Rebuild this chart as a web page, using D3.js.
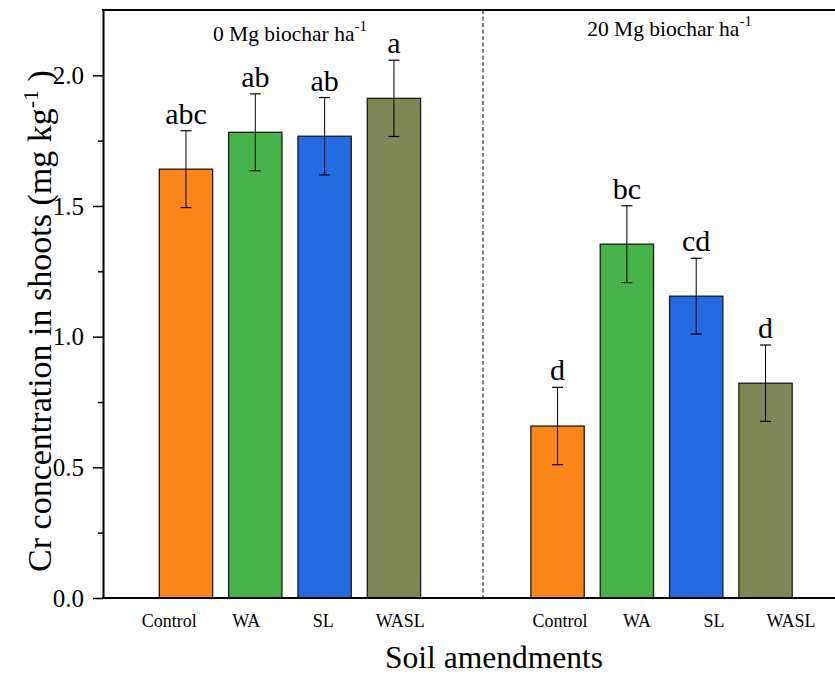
<!DOCTYPE html>
<html>
<head>
<meta charset="utf-8">
<script src="https://cdn.jsdelivr.net/npm/d3@7"></script>
<style>
  html, body { margin: 0; padding: 0; background: #fff; }
  svg { display: block; }
  svg text { font-family: "Liberation Serif", "Times New Roman", Times, "DejaVu Serif", serif; }
</style>
</head>
<body>
<svg id="chart" width="835" height="675"></svg>
<script>
// ---- data ----
const groups = ["0 Mg biochar ha", "20 Mg biochar ha"];
const categories = ["Control", "WA", "SL", "WASL"];
const values0 = [1.641, 1.782, 1.767, 1.912];
const values20 = [0.658, 1.354, 1.155, 0.822];
const errors0 = [0.147, 0.147, 0.148, 0.146];
const errors20 = [0.148, 0.147, 0.145, 0.146];
const letters0 = ["abc", "ab", "ab", "a"];
const letters20 = ["d", "bc", "cd", "d"];
const yTicks = [0.0, 0.5, 1.0, 1.5, 2.0];
const yMinorTicks = [0.25, 0.75, 1.25, 1.75];
const yDomain = [0, 2.25];

const colors = ["#FC8519", "#47B34B", "#246BE3", "#7F8756"];
const FONT = "'Liberation Serif', 'Times New Roman', Times, 'DejaVu Serif', serif";

const rows = [];
groups.forEach((g, gi) => {
  const vals = gi === 0 ? values0 : values20;
  const errs = gi === 0 ? errors0 : errors20;
  const lets = gi === 0 ? letters0 : letters20;
  categories.forEach((c, ci) => {
    rows.push({ group: g, cat: c, ci, value: vals[ci], err: errs[ci], letter: lets[ci] });
  });
});

// ---- layout ----
const L = 103, T = 10, B = 598, R = 848.5;
const svg = d3.select("#chart");

const y = d3.scaleLinear().domain(yDomain).range([B, T]);
const x0 = d3.scaleBand().domain(groups).range([L, R]).paddingInner(0.2538).paddingOuter(0.13);
const x1 = d3.scaleBand().domain(categories).range([0, x0.bandwidth()]).paddingInner(0.231).paddingOuter(0.1155);
const xLabel = d3.scaleBand().domain(categories).range([0, 308]);
const labelShift = { [groups[0]]: -20.5, [groups[1]]: -1.5 };

// divider (dashed)
const dividerX = L + 380;
svg.append("line")
  .attr("x1", dividerX).attr("x2", dividerX)
  .attr("y1", T).attr("y2", B)
  .attr("stroke", "#000").attr("stroke-width", 1)
  .attr("stroke-dasharray", "4,2.5");

// bars
const g = svg.append("g");
g.selectAll("rect.bar").data(rows).join("rect")
  .attr("class", "bar")
  .attr("x", d => x0(d.group) + x1(d.cat))
  .attr("y", d => y(d.value))
  .attr("width", x1.bandwidth())
  .attr("height", d => y(0) - y(d.value))
  .attr("fill", d => colors[d.ci])
  .attr("stroke", "#1a1a1a")
  .attr("stroke-width", 1.3);

// error bars
const cap = 5.5;
const eb = g.selectAll("g.err").data(rows).join("g").attr("class", "err")
  .attr("transform", d => `translate(${x0(d.group) + x1(d.cat) + x1.bandwidth() / 2},0)`);
eb.append("line").attr("x1", 0).attr("x2", 0)
  .attr("y1", d => y(d.value + d.err)).attr("y2", d => y(d.value - d.err))
  .attr("stroke", "#000").attr("stroke-width", 1);
eb.append("line").attr("x1", -cap).attr("x2", cap)
  .attr("y1", d => y(d.value + d.err)).attr("y2", d => y(d.value + d.err))
  .attr("stroke", "#000").attr("stroke-width", 1.2);
eb.append("line").attr("x1", -cap).attr("x2", cap)
  .attr("y1", d => y(d.value - d.err)).attr("y2", d => y(d.value - d.err))
  .attr("stroke", "#000").attr("stroke-width", 1.2);

// significance letters
g.selectAll("text.letter").data(rows).join("text")
  .attr("class", "letter")
  .attr("x", d => x0(d.group) + x1(d.cat) + x1.bandwidth() / 2)
  .attr("y", d => y(d.value + d.err) - 7)
  .attr("text-anchor", "middle")
  .attr("font-family", FONT)
  .attr("font-size", 30)
  .attr("fill", "#000")
  .text(d => d.letter);

// y axis
const yAxis = d3.axisLeft(y).tickValues(yTicks).tickFormat(d3.format(".1f")).tickSize(10).tickSizeOuter(0).tickPadding(9);
const ya = svg.append("g").attr("transform", `translate(${L},0)`).call(yAxis);
ya.attr("font-family", FONT);
ya.select(".domain").attr("stroke-width", 2);
ya.selectAll(".tick line").attr("stroke-width", 1.5);
ya.selectAll(".tick text").attr("font-size", 25).attr("font-family", FONT).attr("fill", "#000");
const yMinor = d3.axisLeft(y).tickValues(yMinorTicks).tickFormat("").tickSize(5).tickSizeOuter(0);
const ym = svg.append("g").attr("transform", `translate(${L},0)`).call(yMinor);
ym.select(".domain").remove();
ym.selectAll(".tick line").attr("stroke-width", 1.5);

// top and bottom frame lines
svg.append("line").attr("x1", L - 1).attr("x2", 835).attr("y1", B).attr("y2", B)
  .attr("stroke", "#000").attr("stroke-width", 2);
svg.append("line").attr("x1", L - 1).attr("x2", 835).attr("y1", T).attr("y2", T)
  .attr("stroke", "#000").attr("stroke-width", 2);

// x category labels
svg.selectAll("text.xlab").data(rows).join("text")
  .attr("class", "xlab")
  .attr("x", d => x0(d.group) + labelShift[d.group] + xLabel(d.cat) + xLabel.bandwidth() / 2)
  .attr("y", 627)
  .attr("text-anchor", "middle")
  .attr("font-family", FONT)
  .attr("font-size", 18)
  .attr("fill", "#000")
  .text(d => d.cat);

// group labels with superscript
const groupBase = { [groups[0]]: 41, [groups[1]]: 36 };
const groupShift = { [groups[0]]: 0, [groups[1]]: 8 };
groups.forEach(gr => {
  const t = svg.append("text")
    .attr("x", x0(gr) + x0.bandwidth() / 2 + groupShift[gr])
    .attr("y", groupBase[gr])
    .attr("text-anchor", "middle")
    .attr("font-family", FONT)
    .attr("font-size", 21.5)
    .attr("fill", "#000");
  t.append("tspan").text(gr);
  t.append("tspan").attr("font-size", 15).attr("dy", -10).text("-1");
});

// axis titles
svg.append("text")
  .attr("x", 494).attr("y", 668)
  .attr("text-anchor", "middle")
  .attr("font-family", FONT)
  .attr("font-size", 31.5)
  .attr("fill", "#000")
  .text("Soil amendments");

const yt = svg.append("text")
  .attr("transform", `translate(51, 321) rotate(-90)`)
  .attr("text-anchor", "middle")
  .attr("font-family", FONT)
  .attr("font-size", 34)
  .attr("fill", "#000");
yt.append("tspan").text("Cr concentration in shoots (mg kg");
yt.append("tspan").attr("font-size", 22).attr("dy", -13).text("-1");
yt.append("tspan").attr("dy", 13).text("  )");
</script>
</body>
</html>
